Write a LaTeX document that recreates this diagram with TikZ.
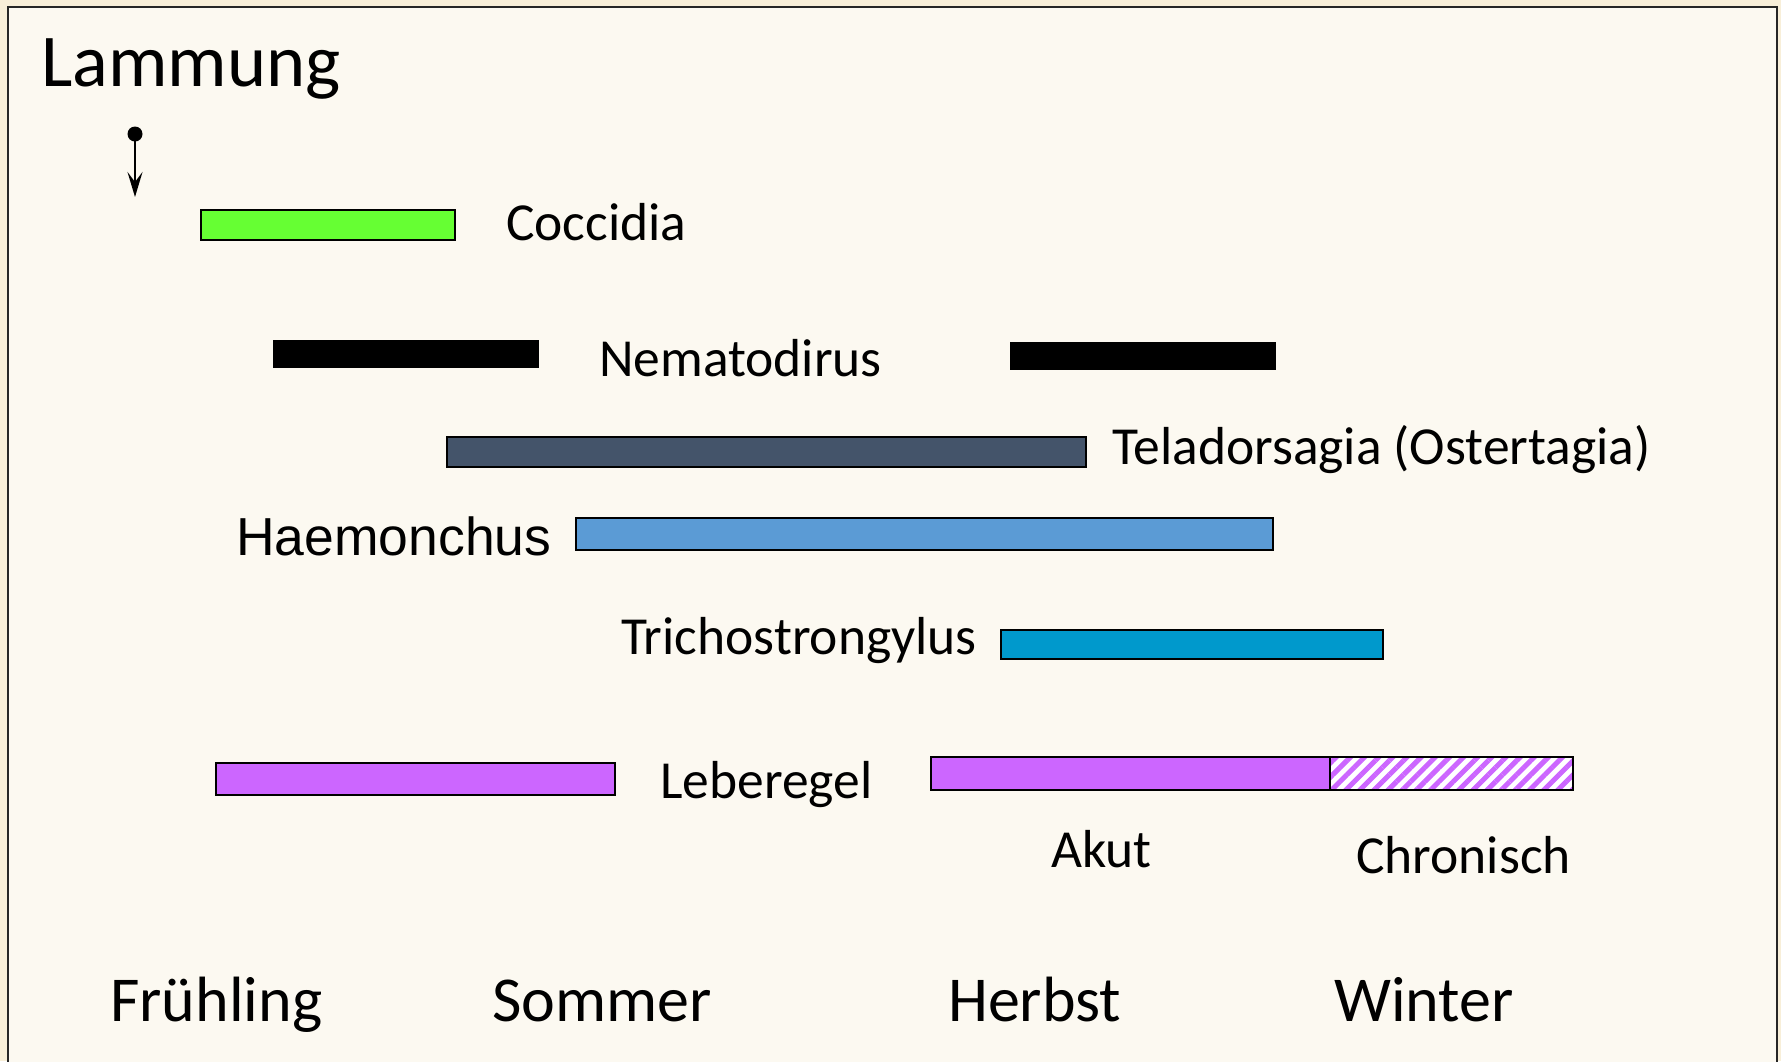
\documentclass[tikz,border=0pt]{standalone}
\usepackage{fontspec}
\setmainfont{Carlito}
\newfontfamily\arialfont{Liberation Sans}
\usepackage{tikz}
\usetikzlibrary{arrows.meta,patterns.meta,positioning}
\usepackage{xcolor}
\definecolor{outerbg}{HTML}{F8EFD9}
\definecolor{innerbg}{HTML}{FCF9F1}
\definecolor{coccgreen}{HTML}{66FF33}
\definecolor{telaslate}{HTML}{44546A}
\definecolor{haemblue}{HTML}{5B9BD5}
\definecolor{trichcyan}{HTML}{0099CC}
\definecolor{lebpurple}{HTML}{CC66FF}

\begin{document}
\begin{tikzpicture}[x=1pt, y=-1pt,
    bar/.style={draw=black, line width=2.5pt, anchor=north west, inner sep=0pt, outer sep=0pt},
    lbl/.style={anchor=base west, inner sep=0pt, font=\fontsize{53.5}{62}\selectfont},
    season/.style={anchor=base west, inner sep=0pt, font=\fontsize{64}{74}\selectfont}]
\useasboundingbox (0,0) rectangle (1781,1061);
\clip (0,0) rectangle (1781,1061);
% ==== Background and frame ====
\fill[outerbg] (0,0) rectangle (1781,1061);
\draw[fill=innerbg, draw=black!85, line width=2.5pt] (8,7) rectangle (1777,1080);

% ==== Lambing marker ====
\node[anchor=base west, inner sep=0pt, font=\fontsize{74.5}{86}\selectfont]
    (lammung) at (41,86) {Lammung};
\node[circle, fill=black, inner sep=0pt, minimum size=15pt] (birth) at (135,134) {};
\coordinate (birthtip) at (135,197);
\draw[-{Stealth[length=25pt, width=15pt, inset=10pt]}, line width=2.5pt] (birth.center) -- (birthtip);

% ==== Parasite bars ====
\node[bar, fill=coccgreen, minimum width=254pt, minimum height=30pt] (cocc) at (201,210) {};
\node[lbl] (cocclbl) at (506,240) {Coccidia};

\node[bar, fill=black, minimum width=264pt, minimum height=26pt] (nema1) at (274,341) {};
\node[lbl] (nemalbl) at (599,376) {Nematodirus};
\node[bar, fill=black, minimum width=264pt, minimum height=26pt] (nema2) at (1011,343) {};

\node[bar, fill=telaslate, minimum width=639pt, minimum height=30pt] (tela) at (447,437) {};
\node[lbl] (telalbl) at (1112,464) {Teladorsagia (Ostertagia)};

\node[anchor=base west, inner sep=0pt, font=\arialfont\fontsize{53.5}{62}\selectfont]
    (haemlbl) at (236,555) {Haemonchus};
\node[bar, fill=haemblue, minimum width=697pt, minimum height=32pt] (haem) at (576,518) {};

\node[lbl] (trichlbl) at (621,654) {Trichostrongylus};
\node[bar, fill=trichcyan, minimum width=382pt, minimum height=29pt] (trich) at (1001,630) {};

\node[bar, fill=lebpurple, minimum width=399pt, minimum height=32pt] (leb1) at (216,763) {};
\node[lbl] (leblbl) at (660,798) {Leberegel};
\node[bar, fill=lebpurple, minimum width=399pt, minimum height=33pt] (lebakut) at (931,757) {};
\node[bar, preaction={fill=white}, pattern={Lines[angle=45, distance=10pt, line width=5pt]},
    pattern color=lebpurple, minimum width=243pt, minimum height=33pt] (lebchron) at (1330,757) {};
\node[lbl] (akutlbl) at (1051,867) {Akut};
\node[lbl] (chronlbl) at (1356,873) {Chronisch};

% ==== Seasons ====
\node[season] (fruehling) at (110,1021) {Frühling};
\node[season] (sommer) at (492,1021) {Sommer};
\node[season] (herbst) at (948,1021) {Herbst};
\node[season] (winter) at (1334,1021) {Winter};
\end{tikzpicture}
\end{document}
